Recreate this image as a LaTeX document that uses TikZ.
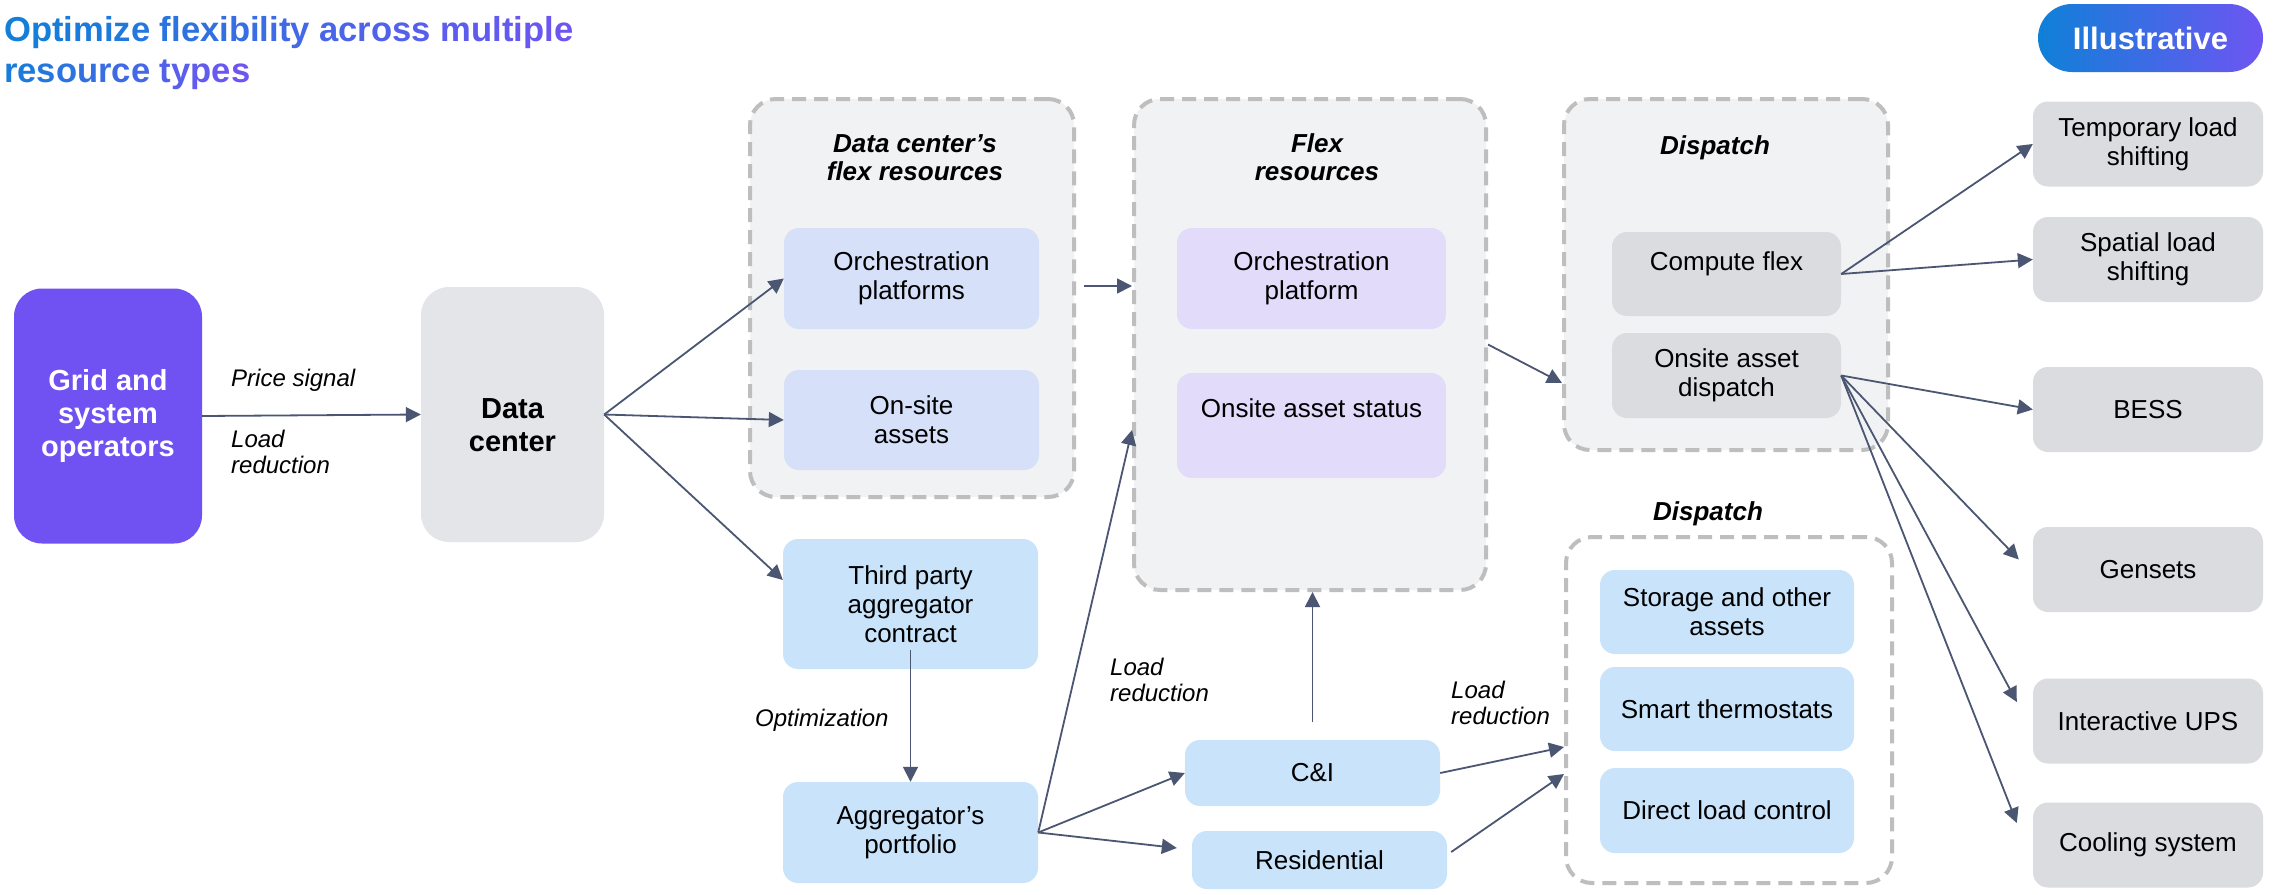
\documentclass[tikz,border=0pt]{standalone}
\usepackage{fontspec}
\setmainfont{Liberation Sans}
\usetikzlibrary{arrows.meta}
\definecolor{cGrid}{HTML}{7052F2}
\definecolor{cDC}{HTML}{E4E5E9}
\definecolor{cGrpF}{HTML}{F1F2F4}
\definecolor{cGrpD}{HTML}{BEBEBE}
\definecolor{cLav}{HTML}{D6E0F8}
\definecolor{cLil}{HTML}{E2DBFA}
\definecolor{cSky}{HTML}{C9E4FA}
\definecolor{cGry}{HTML}{DADCE0}
\definecolor{cArr}{HTML}{4B5672}
\definecolor{tA}{HTML}{0F80D8}
\definecolor{tB}{HTML}{6E55F2}
\newcommand\fBox{\fontsize{26}{29}\selectfont}
\newcommand\fBig{\fontsize{29}{33}\selectfont\bfseries}
\newcommand\fGrp{\fontsize{26}{28}\selectfont\bfseries\itshape}
\newcommand\fLbl{\fontsize{24}{26}\selectfont\itshape}
\newcommand\fTitle{\fontsize{34.6}{41}\selectfont\bfseries}
\newcommand\fPill{\fontsize{31}{34}\selectfont\bfseries}
\ExplSyntaxOn
\int_new:N \l__gl_n_int
\int_new:N \l__gl_i_int
\NewDocumentCommand \gradline { m m m }
  {
    \int_set:Nn \l__gl_n_int { \tl_count:n {#3} }
    \int_zero:N \l__gl_i_int
    \tl_map_inline:nn {#3}
      {
        \int_incr:N \l__gl_i_int
        \exp_args:Ne \color { #2 ! \int_eval:n { 100 * \l__gl_i_int / \l__gl_n_int } ! #1 }
        ##1
      }
  }
\ExplSyntaxOff
\begin{document}
\begin{tikzpicture}[x=1pt,y=-1pt,
  box/.style={rounded corners=15pt, align=center, inner sep=0pt, font=\fBox, text=black},
  lav/.style={box, fill=cLav},
  lil/.style={box, fill=cLil},
  sky/.style={box, fill=cSky},
  gry/.style={box, fill=cGry},
  grp/.style={draw=cGrpD, dash pattern=on 14pt off 8pt, line width=4pt, rounded corners=26pt, inner sep=0pt},
  grptitle/.style={font=\fGrp, align=center, inner sep=0pt},
  lbl/.style={font=\fLbl, align=left, inner sep=0pt, anchor=west},
  arr/.style={draw=cArr, line width=1.8pt, -{Triangle[length=15pt,width=15pt]}},
]
\useasboundingbox (0,0) rectangle (2280,894);
\fill[white] (0,0) rectangle (2280,894);

% title and pill
\node[anchor=north west, inner sep=0pt, align=left, font=\fTitle] (title) at (4,16)
  {\gradline{tA}{tB}{Optimize~flexibility~across~multiple}\\\gradline{tA}{tB}{resource~types}};
\node[rounded corners=34pt, left color=tA, right color=tB, minimum width=225pt, minimum height=68pt,
  inner sep=0pt, text=white, font=\fPill] (ill) at (2150.5,38) {Illustrative};

% groups
\node[grp, fill=cGrpF, minimum width=324pt, minimum height=398pt] (dcg) at (912,298) {};
\node[grp, fill=cGrpF, minimum width=352pt, minimum height=491pt] (flexg) at (1310,344.5) {};
\node[grp, fill=cGrpF, minimum width=324pt, minimum height=351pt] (d1) at (1726,274.5) {};
\node[grp, minimum width=326pt, minimum height=346pt] (d2) at (1729,710) {};

\node[grptitle] (t1) at (915,158) {Data center’s\\flex resources};
\node[grptitle] (t2) at (1317,157) {Flex\\resources};
\node[grptitle] (t3) at (1715,148) {Dispatch};
\node[grptitle] (t4) at (1708,514) {Dispatch};

% left nodes
\node[rounded corners=28pt, fill=cGrid, minimum width=188pt, minimum height=255pt, inner sep=0pt,
  text=white, font=\fBig, align=center] (grid) at (108,416) {Grid and\\system\\operators};
\node[rounded corners=28pt, fill=cDC, minimum width=183pt, minimum height=255pt, inner sep=0pt] (dc) at (512.5,414.5) {};
\node[font=\fBig, align=center, inner sep=0pt] (dct) at (512.5,425) {Data\\center};

% data center's flex resources
\node[lav, minimum width=255pt, minimum height=101pt] (op) at (911.5,278.5) {Orchestration\\platforms};
\node[lav, minimum width=255pt, minimum height=100pt] (osa) at (911.5,420) {On-site\\assets};
\node[sky, minimum width=255pt, minimum height=130pt] (tp) at (910.5,604) {Third party\\aggregator\\contract};
\node[sky, minimum width=255pt, minimum height=101pt] (ap) at (910.5,832.5) {Aggregator’s\\portfolio};

% flex resources
\node[lil, minimum width=269pt, minimum height=101pt] (opl) at (1311.5,278.5) {Orchestration\\platform};
\node[lil, minimum width=269pt, minimum height=105pt] (oas) at (1311.5,425.5) {};
\node[font=\fBox, inner sep=0pt] (oast) at (1311.5,408) {Onsite asset status};
\node[sky, minimum width=255pt, minimum height=66pt] (ci) at (1312.5,773) {C\&I};
\node[sky, minimum width=255pt, minimum height=58pt] (res) at (1319.5,860) {Residential};

% dispatch 1
\node[gry, minimum width=229pt, minimum height=84pt] (cf) at (1726.5,274) {};
\node[font=\fBox, inner sep=0pt] (cft) at (1726.5,264) {Compute flex};
\node[gry, minimum width=229pt, minimum height=85pt] (oad) at (1726.5,375.5) {Onsite asset\\dispatch};

% dispatch 2
\node[sky, minimum width=254pt, minimum height=84pt] (sto) at (1727,612) {Storage and other\\assets};
\node[sky, minimum width=254pt, minimum height=84pt] (smt) at (1727,709) {Smart thermostats};
\node[sky, minimum width=254pt, minimum height=85pt] (dlc) at (1727,810.5) {Direct load control};

% right column
\node[gry, minimum width=230pt, minimum height=85pt] (tls) at (2148,144) {Temporary load\\shifting};
\node[gry, minimum width=230pt, minimum height=85pt] (sls) at (2148,259.5) {Spatial load\\shifting};
\node[gry, minimum width=230pt, minimum height=85pt] (bess) at (2148,409.5) {BESS};
\node[gry, minimum width=230pt, minimum height=85pt] (gen) at (2148,569.5) {Gensets};
\node[gry, minimum width=230pt, minimum height=85pt] (ups) at (2148,721) {Interactive UPS};
\node[gry, minimum width=230pt, minimum height=85pt] (cool) at (2148,845) {Cooling system};

% labels
\node[lbl] (l1) at (231,380) {Price signal};
\node[lbl] (l2) at (231,452) {Load\\reduction};
\node[lbl] (l3) at (755,720) {Optimization};
\node[lbl] (l4) at (1110,680) {Load\\reduction};
\node[lbl] (l5) at (1451,703) {Load\\reduction};

% arrows
\draw[arr] (grid.east) -- (dc.west);
\draw[arr] (dc.east) -- (op.west);
\draw[arr] (dc.east) -- (osa.west);
\draw[arr] (dc.east) -- ([yshift=24pt]tp.west);
\draw[arr] ([xshift=8pt,yshift=12pt]dcg.east) -- ([yshift=58.5pt]flexg.west);
\draw[arr] ([yshift=19pt]tp.south) -- (ap.north);
\draw[arr] (ap.east) -- ([yshift=-85.5pt]flexg.west);
\draw[arr] (ap.east) -- (ci.west);
\draw[arr] (ap.east) -- ([xshift=-15pt,yshift=12pt]res.west);
\draw[arr] ([yshift=18pt]ci.north) -- (ci.north |- flexg.south);
\draw[arr] (ci.east) -- ([yshift=-37pt]d2.west);
\draw[arr] ([xshift=4pt,yshift=8pt]res.east) -- ([yshift=-64pt]d2.west);
\draw[arr] (flexg.east) -- ([yshift=-108.5pt]d1.west);
\draw[arr] (cf.east) -- (tls.west);
\draw[arr] (cf.east) -- (sls.west);
\draw[arr] (oad.east) -- (bess.west);
\draw[arr] (oad.east) -- ([xshift=-14pt,yshift=10pt]gen.west);
\draw[arr] (oad.east) -- ([xshift=-16pt,yshift=19pt]ups.west);
\draw[arr] (oad.east) -- ([xshift=-16pt,yshift=22pt]cool.west);
\end{tikzpicture}
\end{document}
